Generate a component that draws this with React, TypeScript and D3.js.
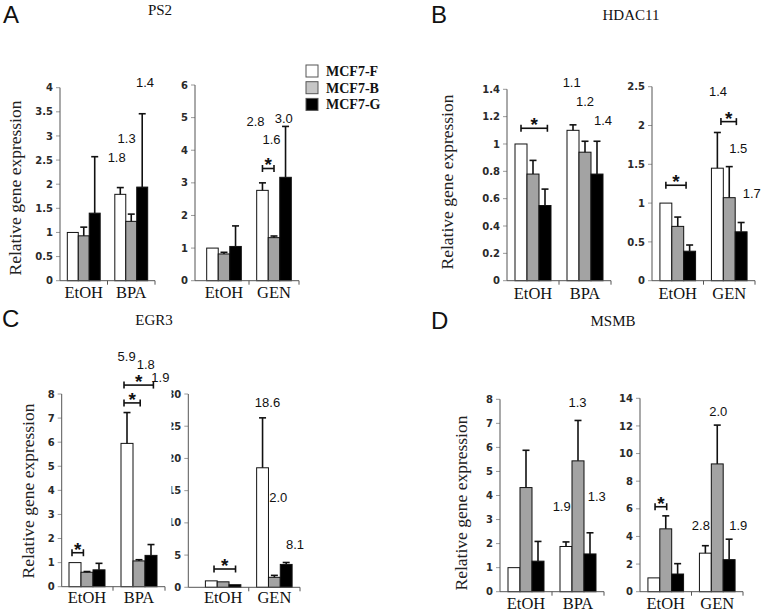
import React from "react";
import * as d3 from "d3";

// ---------- data ----------
const seriesNames = ["MCF7-F", "MCF7-B", "MCF7-G"];

// PS2
const ps2BpaCats = ["EtOH", "BPA"];
const ps2BpaMean = [[1.0, 0.93, 1.4], [1.79, 1.23, 1.94]];
const ps2BpaErr = [[null, 1.11, 2.57], [1.93, 1.38, 3.46]];
const ps2BpaTicks = [0, 0.5, 1, 1.5, 2, 2.5, 3, 3.5, 4];
const ps2BpaFold = ["1.8", "1.3", "1.4"];
const ps2GenCats = ["EtOH", "GEN"];
const ps2GenMean = [[1.0, 0.82, 1.05], [2.77, 1.32, 3.17]];
const ps2GenErr = [[null, 0.87, 1.68], [3.0, 1.37, 4.73]];
const ps2GenTicks = [0, 1, 2, 3, 4, 5, 6];
const ps2GenFold = ["2.8", "1.6", "3.0"];

// HDAC11
const hdacBpaCats = ["EtOH", "BPA"];
const hdacBpaMean = [[1.0, 0.78, 0.55], [1.1, 0.94, 0.78]];
const hdacBpaErr = [[null, 0.88, 0.67], [1.14, 1.02, 1.02]];
const hdacBpaTicks = [0, 0.2, 0.4, 0.6, 0.8, 1, 1.2, 1.4];
const hdacBpaFold = ["1.1", "1.2", "1.4"];
const hdacGenCats = ["EtOH", "GEN"];
const hdacGenMean = [[1.0, 0.7, 0.38], [1.45, 1.07, 0.63]];
const hdacGenErr = [[null, 0.82, 0.46], [1.91, 1.47, 0.75]];
const hdacGenTicks = [0, 0.5, 1, 1.5, 2, 2.5];
const hdacGenFold = ["1.4", "1.5", "1.7"];

// EGR3
const egrBpaCats = ["EtOH", "BPA"];
const egrBpaMean = [[1.0, 0.6, 0.7], [5.95, 1.07, 1.3]];
const egrBpaErr = [[null, 0.63, 0.97], [7.23, 1.12, 1.75]];
const egrBpaTicks = [0, 1, 2, 3, 4, 5, 6, 7, 8];
const egrBpaFold = ["5.9", "1.8", "1.9"];
const egrGenCats = ["EtOH", "GEN"];
const egrGenMean = [[1.0, 0.85, 0.4], [18.55, 1.55, 3.55]];
const egrGenErr = [[null, null, null], [26.3, 1.85, 3.85]];
const egrGenTicks = [0, 5, 10, 15, 20, 25, 30];
const egrGenFold = ["18.6", "2.0", "8.1"];

// MSMB
const msmbBpaCats = ["EtOH", "BPA"];
const msmbBpaMean = [[1.0, 4.33, 1.27], [1.88, 5.44, 1.57]];
const msmbBpaErr = [[null, 5.88, 2.09], [2.07, 7.12, 2.45]];
const msmbBpaTicks = [0, 1, 2, 3, 4, 5, 6, 7, 8];
const msmbBpaFold = ["1.3", "1.9", "1.3"];
const msmbGenCats = ["EtOH", "GEN"];
const msmbGenMean = [[1.0, 4.55, 1.28], [2.79, 9.25, 2.32]];
const msmbGenErr = [[null, 5.49, 2.03], [3.33, 12.06, 3.8]];
const msmbGenTicks = [0, 2, 4, 6, 8, 10, 12, 14];
const msmbGenFold = ["2.0", "2.8", "1.9"];

// ---------- styles ----------
const barFill = ["#ffffff", "#a3a3a3", "#000000"];
const legendFill = ["#ffffff", "#c6c6c6", "#000000"];
const SERIF = "'Liberation Serif', 'Times New Roman', serif";
const SANS = "'Liberation Sans', Arial, sans-serif";
const TICKFONT = "'DejaVu Sans', Verdana, sans-serif";

// ---------- layout ----------
type Sub = {
  cats: string[]; mean: number[][]; err: (number | null)[][]; ticks: number[];
  fold: string[]; foldPos: number[][]; brackets: number[][];
  axisX: number; bandStart: number; bandEnd: number; yTop: number; yBot: number;
  catY: number; clipLeft?: number; id: string;
};

const panels = [
  {
    letter: "A", lx: 3, ly: 23, title: "PS2", tx: 160, ty: 15, ylx: 15, yly: 188,
    subs: [
      { id: "a1", cats: ps2BpaCats, mean: ps2BpaMean, err: ps2BpaErr, ticks: ps2BpaTicks, fold: ps2BpaFold,
        foldPos: [[1, -0.33, 2.55], [1, 0.58, 2.95], [1, 2.25, 4.1]], brackets: [],
        axisX: 60, bandStart: 60, bandEnd: 155, yTop: 87.7, yBot: 280.7, catY: 298 },
      { id: "a2", cats: ps2GenCats, mean: ps2GenMean, err: ps2GenErr, ticks: ps2GenTicks, fold: ps2GenFold,
        foldPos: [[1, -0.6, 4.87], [1, 0.79, 4.33], [1, 1.85, 4.98]], brackets: [[1, 0, 1, 3.44]],
        axisX: 195, bandStart: 199, bandEnd: 299, yTop: 85, yBot: 280.7, catY: 298 },
    ] as Sub[],
  },
  {
    letter: "B", lx: 431, ly: 23, title: "HDAC11", tx: 631, ty: 20, ylx: 447, yly: 182,
    subs: [
      { id: "b1", cats: hdacBpaCats, mean: hdacBpaMean, err: hdacBpaErr, ticks: hdacBpaTicks, fold: hdacBpaFold,
        foldPos: [[1, -0.11, 1.448], [1, 1.0, 1.309], [1, 2.5, 1.176]], brackets: [[0, 0, 2.2, 1.115]],
        axisX: 507, bandStart: 507, bandEnd: 611, yTop: 89.3, yBot: 280.7, catY: 299 },
      { id: "b2", cats: hdacGenCats, mean: hdacGenMean, err: hdacGenErr, ticks: hdacGenTicks, fold: hdacGenFold,
        foldPos: [[1, 0.05, 2.436], [1, 1.76, 1.706], [1, 2.89, 1.126]], brackets: [[0, 0, 1.7, 1.23], [1, 0.3, 1.6, 2.05]],
        axisX: 652, bandStart: 652, bandEnd: 755, yTop: 86.7, yBot: 280.7, catY: 299 },
    ] as Sub[],
  },
  {
    letter: "C", lx: 2, ly: 327, title: "EGR3", tx: 154, ty: 325, ylx: 27.5, yly: 491,
    subs: [
      { id: "c1", cats: egrBpaCats, mean: egrBpaMean, err: egrBpaErr, ticks: egrBpaTicks, fold: egrBpaFold,
        foldPos: [[1, -0.03, 9.58], [1, 1.56, 9.23], [1, 2.78, 8.69]],
        brackets: [[0, -0.25, 0.7, 1.41], [1, -0.25, 1.1, 7.63], [1, -0.25, 2.2, 8.37]],
        axisX: 61.7, bandStart: 61, bandEnd: 165, yTop: 394, yBot: 586.7, catY: 603 },
      { id: "c2", cats: egrGenCats, mean: egrGenMean, err: egrGenErr, ticks: egrGenTicks, fold: egrGenFold,
        foldPos: [[1, 0.42, 28.69], [1, 1.33, 13.9], [1, 2.74, 6.72]], brackets: [[0, 0.23, 2.05, 2.84]],
        axisX: 188.3, bandStart: 197.5, bandEnd: 300, yTop: 394, yBot: 587.3, catY: 603, clipLeft: 171.5 },
    ] as Sub[],
  },
  {
    letter: "D", lx: 431, ly: 329, title: "MSMB", tx: 613, ty: 326, ylx: 461, yly: 503,
    subs: [
      { id: "d1", cats: msmbBpaCats, mean: msmbBpaMean, err: msmbBpaErr, ticks: msmbBpaTicks, fold: msmbBpaFold,
        foldPos: [[1, 0.96, 7.86], [1, -0.36, 3.56], [1, 2.56, 3.95]], brackets: [],
        axisX: 500, bandStart: 500, bandEnd: 604, yTop: 399.3, yBot: 591.7, catY: 609 },
      { id: "d2", cats: msmbGenCats, mean: msmbGenMean, err: msmbGenErr, ticks: msmbGenTicks, fold: msmbGenFold,
        foldPos: [[1, 1.09, 13.03], [1, -0.38, 4.83], [1, 2.77, 4.83]], brackets: [[0, 0.1, 1.08, 6.15]],
        axisX: 640, bandStart: 640, bandEnd: 743, yTop: 398.3, yBot: 591.7, catY: 609 },
    ] as Sub[],
  },
];

function SubPlot({ s }: { s: Sub }) {
  const x = d3.scaleBand<string>().domain(s.cats).range([s.bandStart, s.bandEnd]).paddingInner(0).paddingOuter(0);
  const xs = d3.scaleBand<string>().domain(seriesNames).range([0, x.bandwidth()]).paddingInner(0).paddingOuter(0.667);
  const maxV = s.ticks[s.ticks.length - 1];
  const y = d3.scaleLinear().domain([0, maxV]).range([s.yBot, s.yTop]);
  const bw = xs.bandwidth();
  const posX = (ci: number, p: number) =>
    (x(s.cats[ci]) as number) + (xs(seriesNames[0]) as number) + bw / 2 + p * xs.step();
  const boundaries = s.cats.slice(1).map((c) => x(c) as number).concat([s.bandEnd]);

  return (
    <g>
      {s.clipLeft !== undefined && (
        <clipPath id={"clip-" + s.id}>
          <rect x={s.clipLeft} y={s.yTop - 20} width={s.axisX - s.clipLeft} height={s.yBot - s.yTop + 40} />
        </clipPath>
      )}
      {/* y ticks */}
      <g clipPath={s.clipLeft !== undefined ? `url(#clip-${s.id})` : undefined}>
        {s.ticks.map((t) => (
          <g key={t}>
            <line x1={s.axisX - 4} x2={s.axisX} y1={y(t)} y2={y(t)} stroke="#9a9a9a" strokeWidth={1} />
            <text x={s.axisX - 7} y={y(t)} dy="0.36em" textAnchor="end" fontFamily={TICKFONT}
              fontWeight="bold" fontSize={10} fill="#2a2a2a">{String(t)}</text>
          </g>
        ))}
      </g>
      {/* bars */}
      {s.cats.map((c, ci) =>
        seriesNames.map((sn, si) => {
          const v = s.mean[ci][si];
          const x0 = (x(c) as number) + (xs(sn) as number);
          return (
            <rect key={c + sn} x={x0} y={y(v)} width={bw} height={y(0) - y(v)}
              fill={barFill[si]} stroke="#111" strokeWidth={1} />
          );
        })
      )}
      {/* error bars */}
      {s.cats.map((c, ci) =>
        seriesNames.map((sn, si) => {
          const e = s.err[ci][si];
          if (e === null || e === undefined) return null;
          const cx = (x(c) as number) + (xs(sn) as number) + bw / 2;
          return (
            <g key={"e" + c + sn} stroke="#111" strokeWidth={1.6}>
              <line x1={cx} x2={cx} y1={y(s.mean[ci][si])} y2={y(e)} />
              <line x1={cx - 3.5} x2={cx + 3.5} y1={y(e)} y2={y(e)} />
            </g>
          );
        })
      )}
      {/* axes */}
      <line x1={s.axisX} x2={s.axisX} y1={s.yTop} y2={s.yBot} stroke="#555" strokeWidth={1} />
      <line x1={s.axisX} x2={s.bandEnd} y1={s.yBot} y2={s.yBot} stroke="#555" strokeWidth={1} />
      {boundaries.map((b, i) => (
        <line key={i} x1={b} x2={b} y1={s.yBot} y2={s.yBot + 4} stroke="#555" strokeWidth={1} />
      ))}
      {s.cats.map((c) => (
        <text key={"l" + c} x={(x(c) as number) + x.bandwidth() / 2} y={s.catY} textAnchor="middle"
          fontFamily={SERIF} fontSize={16.5} fill="#111">{c}</text>
      ))}
      {/* fold-change labels */}
      {s.fold.map((f, i) => {
        const [ci, p, v] = s.foldPos[i];
        return (
          <text key={"f" + i} x={posX(ci, p)} y={y(v) + 4.6} textAnchor="middle" fontFamily={SANS}
            fontSize={13} fill="#111">{f}</text>
        );
      })}
      {/* significance brackets */}
      {s.brackets.map((b, i) => {
        const [ci, p0, p1, v] = b;
        const xa = posX(ci, p0);
        const xb = posX(ci, p1);
        const yy = y(v);
        return (
          <g key={"b" + i}>
            <g stroke="#111" strokeWidth={1.6}>
              <line x1={xa} x2={xb} y1={yy} y2={yy} />
              <line x1={xa} x2={xa} y1={yy - 3.5} y2={yy + 3.5} />
              <line x1={xb} x2={xb} y1={yy - 3.5} y2={yy + 3.5} />
            </g>
            <text x={(xa + xb) / 2} y={yy + 3} textAnchor="middle" fontFamily={SANS} fontSize={19}
              fontWeight="bold" fill="#111">*</text>
          </g>
        );
      })}
    </g>
  );
}

export default function App() {
  return (
    <svg width={762} height={612} style={{ position: "absolute", left: 0, top: 0, display: "block" }}
      xmlns="http://www.w3.org/2000/svg">
      <rect x={0} y={0} width={762} height={612} fill="#ffffff" />
      {panels.map((p) => (
        <g key={p.letter}>
          <text x={p.lx} y={p.ly} fontFamily={SANS} fontSize={24} fill="#111">{p.letter}</text>
          <text x={p.tx} y={p.ty} textAnchor="middle" fontFamily={SERIF} fontSize={15} fill="#111">{p.title}</text>
          <text transform={`translate(${p.ylx},${p.yly}) rotate(-90)`} textAnchor="middle" dy="0.35em"
            fontFamily={SERIF} fontSize={17.5} fill="#222">Relative gene expression</text>
          {p.subs.map((s) => <SubPlot key={s.id} s={s} />)}
        </g>
      ))}
      {/* legend */}
      {seriesNames.map((n, i) => (
        <g key={n}>
          <rect x={306} y={65 + i * 16.7} width={12} height={12} fill={legendFill[i]} stroke="#555" strokeWidth={1} />
          <text x={326} y={65 + i * 16.7 + 11} fontFamily={SERIF} fontWeight="bold" fontSize={14} fill="#111">{n}</text>
        </g>
      ))}
    </svg>
  );
}
